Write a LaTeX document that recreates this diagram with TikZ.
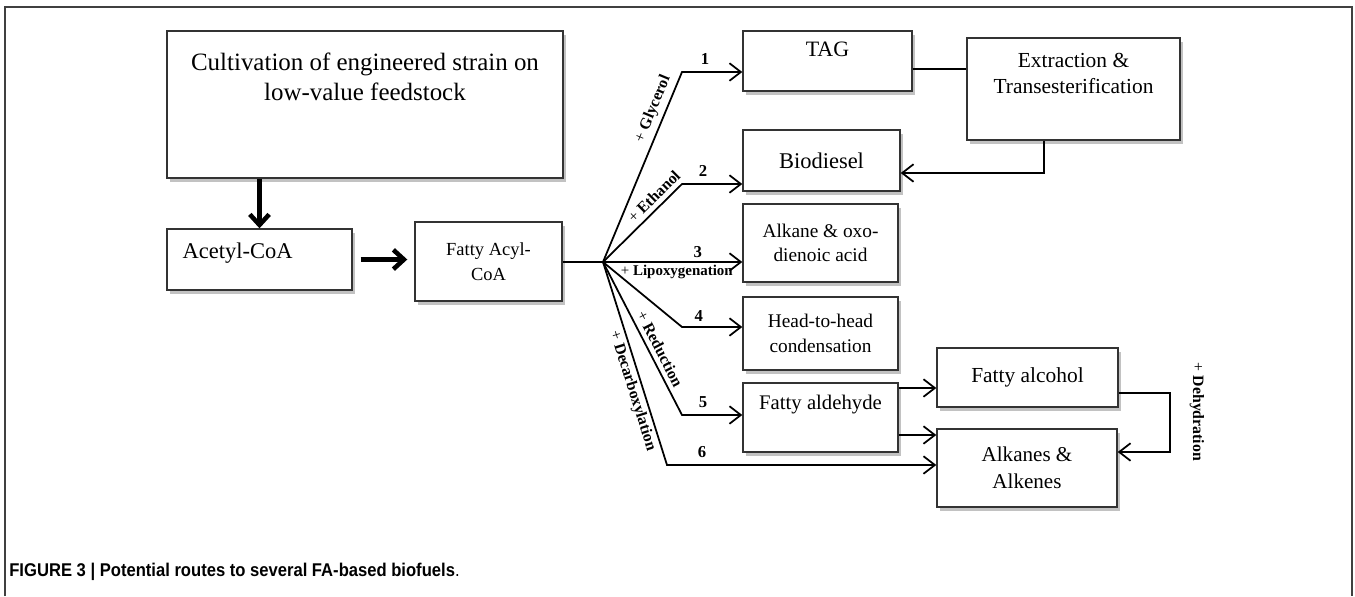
\documentclass[tikz,border=0pt]{standalone}
\usepackage{fontspec}
\setmainfont{Liberation Serif}
\newfontfamily\capfont[FakeStretch=0.9]{Liberation Sans}
\usetikzlibrary{arrows.meta, positioning, calc, shadows}

\begin{document}
\begin{tikzpicture}[
    x=0.02cm, y=-0.02cm,
    box/.style={rectangle, draw=black!80, fill=white, line width=0.8pt, inner sep=0pt,
        drop shadow={shadow xshift=1.5pt, shadow yshift=-2pt, fill=black!40, opacity=0.6}},
    txt/.style={font=\fontsize{12}{15}\selectfont, align=center, inner sep=0pt},
    lbl/.style={font=\fontsize{9}{10}\selectfont\bfseries, inner sep=2.5pt},
    num/.style={font=\fontsize{9.5}{11}\selectfont\bfseries, inner sep=3.5pt},
    arr/.style={-{Straight Barb[length=6.5pt, width=10pt]}, line width=1pt},
    bigarr/.style={-{Straight Barb[length=6pt, width=11pt, line width=2.6pt]}, line width=2.8pt},
    link/.style={line width=1pt}
]
    \useasboundingbox (0,0) rectangle (1355,596);

    % Frame
    \draw[black!75, line width=0.8pt] (5,596) -- (5,7) -- (1352,7) -- (1352,596);

    % Left part
    \node[box, minimum width=7.92cm, minimum height=2.94cm] (cult) at (365,104.5) {};
    \node[txt, font=\fontsize{14.2}{17}\selectfont] (cultT) at ([yshift=0.55cm]cult.center) {Cultivation of engineered strain on\\low-value feedstock};
    \node[box, minimum width=3.7cm, minimum height=1.22cm] (acetyl) at (259.5,259.5) {};
    \node[txt, font=\fontsize{12.8}{15}\selectfont, anchor=west] (acetylT) at ([xshift=0.32cm, yshift=0.13cm]acetyl.west) {Acetyl-CoA};
    \node[box, minimum width=2.94cm, minimum height=1.58cm, txt, font=\fontsize{10.5}{14}\selectfont] (facoa) at (488.5,261.5) {Fatty Acyl-\\CoA};

    \draw[bigarr] (acetyl.north |- cult.south) -- (acetyl.north);
    \draw[bigarr] ([xshift=4.5pt]acetyl.east) -- ([xshift=-4pt]acetyl.east -| facoa.west);

    % Products
    \node[box, minimum width=3.38cm, minimum height=1.2cm] (tag) at (827.5,61) {};
    \node[txt, font=\fontsize{12.5}{15}\selectfont] (tagT) at ([yshift=0.24cm]tag.center) {TAG};
    \node[box, minimum width=4.26cm, minimum height=2.04cm] (extr) at (1073.5,89) {};
    \node[txt, font=\fontsize{12.2}{15.3}\selectfont] (extrT) at ([yshift=0.31cm]extr.center) {Extraction \&\\Transesterification};
    \node[box, minimum width=3.14cm, minimum height=1.22cm, txt, font=\fontsize{12.8}{15}\selectfont] (biod) at (821.5,160.5) {Biodiesel};
    \node[box, minimum width=3.1cm, minimum height=1.56cm, txt, font=\fontsize{11}{14}\selectfont] (alk) at (820.5,243) {Alkane \& oxo-\\dienoic acid};
    \node[box, minimum width=3.1cm, minimum height=1.46cm, txt, font=\fontsize{11}{14}\selectfont] (head) at (820.5,333.5) {Head-to-head\\condensation};
    \node[box, minimum width=3.1cm, minimum height=1.38cm] (fald) at (820.5,417.5) {};
    \node[txt, font=\fontsize{11.8}{15}\selectfont] (faldT) at ([yshift=0.25cm]fald.center) {Fatty aldehyde};
    \node[box, minimum width=3.62cm, minimum height=1.18cm, txt, font=\fontsize{12.2}{15}\selectfont] (falc) at (1027.5,377.5) {Fatty alcohol};
    \node[box, minimum width=3.6cm, minimum height=1.56cm, txt, font=\fontsize{12}{15.3}\selectfont] (alkenes) at (1027,468) {Alkanes \&\\Alkenes};

    % Branch points
    \coordinate (hub) at (603,262);
    \coordinate (b1) at (682,72);
    \coordinate (b2) at (682,184);
    \coordinate (b4) at (682,327);
    \coordinate (b5) at (682,415);
    \coordinate (b6) at (667,465);

    \draw[link] (facoa.east |- hub) -- (hub);

    % Routes 1-6
    \draw[arr] (hub) -- node[lbl, sloped, above, pos=0.78] (glyc) {\textmd{+}~Glycerol} (b1)
        -- node[num, above, pos=0.38] (n1) {1} (b1 -| tag.west);
    \draw[arr] (hub) -- node[lbl, sloped, above, pos=0.74] (eth) {\textmd{+}~Ethanol} (b2)
        -- node[num, above, pos=0.35] (n2) {2} (b2 -| biod.west);
    \draw[arr] (hub) -- node[num, above, pos=0.68, inner sep=2pt] (n3) {3}
        node[lbl, below, pos=0.53, inner sep=1pt, font=\fontsize{8.5}{10}\selectfont\bfseries] (lipo) {\textmd{+}~Lipoxygenation} (hub -| alk.west);
    \draw[arr] (hub) -- (b4) -- node[num, above, pos=0.28, inner sep=2.5pt] (n4) {4} (b4 -| head.west);
    \draw[arr] (hub) -- node[lbl, sloped, above, pos=0.6] (red) {\textmd{+}~Reduction} (b5)
        -- node[num, above, pos=0.35] (n5) {5} (b5 -| fald.west);
    \draw[arr] (hub) -- node[lbl, sloped, below, pos=0.62, inner sep=1.5pt] (decarb) {\textmd{+}~Decarboxylation} (b6)
        -- node[num, above, pos=0.13] (n6) {6} (b6 -| alkenes.west);

    % Follow-up steps
    \draw[link] ([yshift=-0.16cm]tag.east) -- ([yshift=-0.16cm]tag.east -| extr.west);
    \draw[arr] ([xshift=-0.59cm]extr.south) |- ([yshift=-0.25cm]biod.east);
    \draw[arr] ([yshift=0.59cm]fald.east) -- ([yshift=0.59cm]fald.east -| falc.west);
    \draw[arr] ([yshift=-0.35cm]fald.east) -- ([yshift=-0.35cm]fald.east -| alkenes.west);
    \draw[arr] ([yshift=-0.31cm]falc.east) -- ++(1.02cm,0) |- ([yshift=0.32cm]alkenes.east);
    \node[lbl, rotate=-90] (dehyd) at (1197,412) {\textmd{+}~Dehydration};

    % Caption
    \node[anchor=west, inner sep=0pt, font=\capfont\fontsize{10.5}{12}\selectfont] (caption) at (9,572)
        {\textbf{FIGURE 3 | Potential routes to several FA-based biofuels}.};
\end{tikzpicture}
\end{document}
